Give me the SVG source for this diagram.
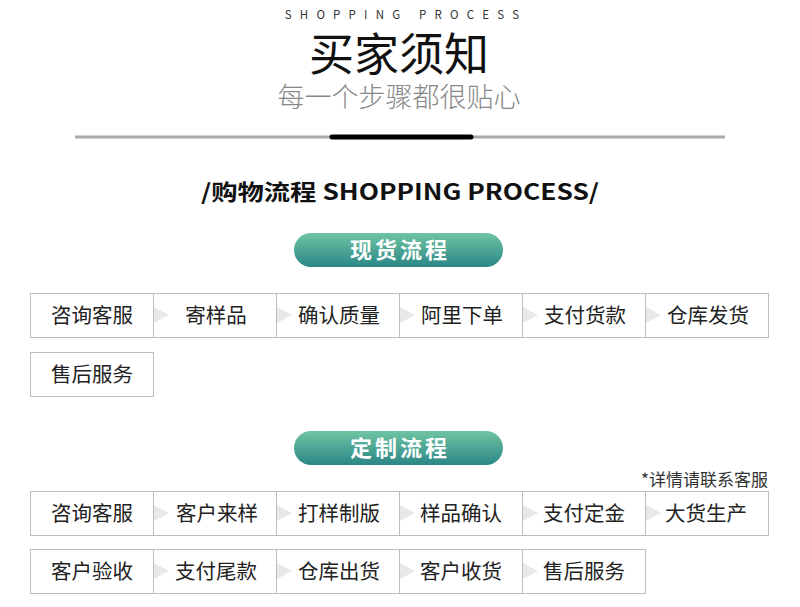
<svg xmlns="http://www.w3.org/2000/svg" width="800" height="607" viewBox="0 0 800 607">
<defs>
<linearGradient id="g" x1="0" y1="0" x2="0" y2="1">
<stop offset="0" stop-color="#6ec4a2"/>
<stop offset="1" stop-color="#2b8787"/>
</linearGradient>
<polygon id="arr" points="0,-8 15,0 0,8" fill="#e8e8e8"/>
</defs>
<style>
text{font-family:"Noto Sans CJK SC","Liberation Sans",sans-serif}
.b{fill:#fff;stroke:#bdbdbd;stroke-width:1}
.t{font-size:20.5px;fill:#222;text-anchor:middle}
.p{fill:url(#g)}
.pt{font-size:22px;font-weight:bold;fill:#fff;text-anchor:middle;letter-spacing:3px}
</style>
<rect width="800" height="607" fill="#fff"/>
<text x="406" y="19" font-size="11.5" fill="#333" text-anchor="middle" letter-spacing="8.2" font-family="Liberation Sans,sans-serif">SHOPPING PROCESS</text>
<text x="399" y="71" font-size="45" fill="#111" text-anchor="middle">买家须知</text>
<text x="399" y="107" font-size="27" fill="#888" text-anchor="middle" font-weight="300">每一个步骤都很贴心</text>
<line x1="75" y1="137" x2="725" y2="137" stroke="#aaa" stroke-width="3"/>
<line x1="332" y1="137" x2="471" y2="137" stroke="#000" stroke-width="5" stroke-linecap="round"/>
<text x="400" y="200" font-size="22" fill="#111" text-anchor="middle" font-weight="bold" textLength="398" lengthAdjust="spacingAndGlyphs">/购物流程 SHOPPING PROCESS/</text>

<g id="pill1"><rect class="p" x="294" y="233" width="209" height="34" rx="17"/><text class="pt" x="400" y="258">现货流程</text></g>

<g id="s1-1"><rect class="b" x="30.5" y="293.5" width="123" height="44"/><text class="t" x="92" y="323">咨询客服</text></g>
<g id="s1-2"><rect class="b" x="153.5" y="293.5" width="123" height="44"/><text class="t" x="216" y="323">寄样品</text></g>
<g id="s1-3"><rect class="b" x="276.5" y="293.5" width="123" height="44"/><text class="t" x="339" y="323">确认质量</text></g>
<g id="s1-4"><rect class="b" x="399.5" y="293.5" width="123" height="44"/><text class="t" x="462" y="323">阿里下单</text></g>
<g id="s1-5"><rect class="b" x="522.5" y="293.5" width="123" height="44"/><text class="t" x="585" y="323">支付货款</text></g>
<g id="s1-6"><rect class="b" x="645.5" y="293.5" width="123" height="44"/><text class="t" x="708" y="323">仓库发货</text></g>
<g id="s1-7"><rect class="b" x="30.5" y="352.5" width="123" height="44"/><text class="t" x="92" y="382">售后服务</text></g>

<g id="pill2"><rect class="p" x="294" y="431" width="209" height="34" rx="17"/><text class="pt" x="400" y="456">定制流程</text></g>
<text x="768" y="486" font-size="17" fill="#333" text-anchor="end">*详情请联系客服</text>

<g id="s2-1"><rect class="b" x="30.5" y="491.5" width="123" height="44"/><text class="t" x="92" y="521">咨询客服</text></g>
<g id="s2-2"><rect class="b" x="153.5" y="491.5" width="123" height="44"/><text class="t" x="217" y="521">客户来样</text></g>
<g id="s2-3"><rect class="b" x="276.5" y="491.5" width="123" height="44"/><text class="t" x="339" y="521">打样制版</text></g>
<g id="s2-4"><rect class="b" x="399.5" y="491.5" width="123" height="44"/><text class="t" x="461" y="521">样品确认</text></g>
<g id="s2-5"><rect class="b" x="522.5" y="491.5" width="123" height="44"/><text class="t" x="584" y="521">支付定金</text></g>
<g id="s2-6"><rect class="b" x="645.5" y="491.5" width="123" height="44"/><text class="t" x="706" y="521">大货生产</text></g>
<g id="s2-7"><rect class="b" x="30.5" y="549.5" width="123" height="44"/><text class="t" x="92" y="579">客户验收</text></g>
<g id="s2-8"><rect class="b" x="153.5" y="549.5" width="123" height="44"/><text class="t" x="216" y="579">支付尾款</text></g>
<g id="s2-9"><rect class="b" x="276.5" y="549.5" width="123" height="44"/><text class="t" x="339" y="579">仓库出货</text></g>
<g id="s2-10"><rect class="b" x="399.5" y="549.5" width="123" height="44"/><text class="t" x="461" y="579">客户收货</text></g>
<g id="s2-11"><rect class="b" x="522.5" y="549.5" width="123" height="44"/><text class="t" x="584" y="579">售后服务</text></g>

<g id="connectors">
<use href="#arr" x="154" y="315"/>
<use href="#arr" x="277" y="315"/>
<use href="#arr" x="400" y="315"/>
<use href="#arr" x="523" y="315"/>
<use href="#arr" x="646" y="315"/>
<use href="#arr" x="154" y="513"/>
<use href="#arr" x="277" y="513"/>
<use href="#arr" x="400" y="513"/>
<use href="#arr" x="523" y="513"/>
<use href="#arr" x="646" y="513"/>
<use href="#arr" x="154" y="571"/>
<use href="#arr" x="277" y="571"/>
<use href="#arr" x="400" y="571"/>
<use href="#arr" x="523" y="571"/>
</g>
</svg>
